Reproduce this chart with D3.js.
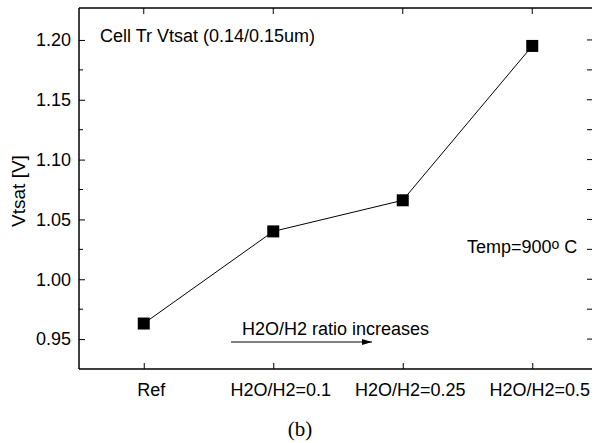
<!DOCTYPE html>
<html>
<head>
<meta charset="utf-8">
<script src="https://cdn.jsdelivr.net/npm/d3@7"></script>
<style>
  body { margin: 0; background: #fff; }
  text { font-family: "Liberation Sans", Arial, sans-serif; fill: #000; }
</style>
</head>
<body>
<div id="chart"></div>
<script>
// data
const categories = ["Ref", "H2O/H2=0.1", "H2O/H2=0.25", "H2O/H2=0.5"];
const vtsat = [0.963, 1.040, 1.066, 1.195];
const yTicks = [0.95, 1.00, 1.05, 1.10, 1.15, 1.20];
const yMinorTicks = [0.975, 1.025, 1.075, 1.125, 1.175];

const W = 595, H = 443;
const margin = {top: 8, right: 3, bottom: 74, left: 79};
const width = W - margin.left - margin.right;
const height = H - margin.top - margin.bottom;
const fs = 18;

const svg = d3.select("#chart").append("svg")
    .attr("width", W)
    .attr("height", H);

const g = svg.append("g")
    .attr("transform", `translate(${margin.left},${margin.top})`);

// scales
const x = d3.scalePoint()
    .domain(categories)
    .range([0, width + 5])
    .padding(0.5);

const y = d3.scaleLinear()
    .domain([0.925, 1.2267])
    .range([height, 0]);

// frame lines
g.append("line").attr("x1", 0).attr("x2", width).attr("y1", 0).attr("y2", 0)
    .attr("stroke", "#000").attr("stroke-width", 1.5);
g.append("line").attr("x1", 0).attr("x2", width).attr("y1", height).attr("y2", height)
    .attr("stroke", "#000").attr("stroke-width", 1.5);
g.append("line").attr("x1", 0).attr("x2", 0).attr("y1", 0).attr("y2", height)
    .attr("stroke", "#000").attr("stroke-width", 1.5);

// left axis
const yAxis = g.append("g")
    .call(d3.axisLeft(y).tickValues(yTicks).tickFormat(d3.format(".2f")).tickSize(-6).tickPadding(8));
yAxis.select(".domain").remove();
yAxis.selectAll("text").attr("font-size", fs).attr("font-family", "Liberation Sans, Arial, sans-serif");

g.append("g").selectAll("line")
    .data(yMinorTicks)
    .enter().append("line")
    .attr("x1", 0).attr("x2", 4)
    .attr("y1", d => y(d)).attr("y2", d => y(d))
    .attr("stroke", "#000");

// right side ticks (no border line)
g.append("g").selectAll("line")
    .data(yTicks.concat(yMinorTicks))
    .enter().append("line")
    .attr("x1", width - 5).attr("x2", width)
    .attr("y1", d => y(d)).attr("y2", d => y(d))
    .attr("stroke", "#000");

// bottom axis
const xAxis = g.append("g")
    .attr("transform", `translate(0,${height})`)
    .call(d3.axisBottom(x).tickSize(-6).tickPadding(14));
xAxis.select(".domain").remove();
xAxis.selectAll("text")
    .attr("font-size", fs)
    .attr("dx", 7)
    .attr("font-family", "Liberation Sans, Arial, sans-serif");

// top ticks
g.append("g").selectAll("line")
    .data(categories)
    .enter().append("line")
    .attr("x1", d => x(d)).attr("x2", d => x(d))
    .attr("y1", 0).attr("y2", 6)
    .attr("stroke", "#000");

// y label
svg.append("text")
    .attr("transform", "translate(25,191) rotate(-90)")
    .attr("text-anchor", "middle")
    .attr("font-size", 19)
    .text("Vtsat [V]");

// line + markers
const line = d3.line()
    .x((d, i) => x(categories[i]))
    .y(d => y(d));

g.append("path")
    .datum(vtsat)
    .attr("d", line)
    .attr("fill", "none")
    .attr("stroke", "#000")
    .attr("stroke-width", 1);

const s = 12;
g.selectAll("rect.pt")
    .data(vtsat)
    .enter().append("rect")
    .attr("class", "pt")
    .attr("x", (d, i) => x(categories[i]) - s / 2)
    .attr("y", d => y(d) - s / 2)
    .attr("width", s)
    .attr("height", s)
    .attr("fill", "#000");

// annotations
svg.append("text")
    .attr("x", 100).attr("y", 42)
    .attr("font-size", fs)
    .text("Cell Tr Vtsat (0.14/0.15um)");

const temp = svg.append("text")
    .attr("x", 467).attr("y", 253)
    .attr("font-size", fs);
temp.append("tspan").text("Temp=900");
temp.append("tspan").attr("dy", -4).attr("font-size", 14).text("o");
temp.append("tspan").attr("dy", 4).text(" C");

svg.append("text")
    .attr("x", 242).attr("y", 335)
    .attr("font-size", fs)
    .text("H2O/H2 ratio increases");

svg.append("defs").append("marker")
    .attr("id", "arr")
    .attr("viewBox", "0 0 10 6")
    .attr("refX", 10).attr("refY", 3)
    .attr("markerWidth", 10).attr("markerHeight", 6)
    .attr("markerUnits", "userSpaceOnUse")
    .attr("orient", "auto")
    .append("path").attr("d", "M0,0L10,3L0,6Z").attr("fill", "#000");

svg.append("line")
    .attr("x1", 231).attr("x2", 372)
    .attr("y1", 342).attr("y2", 342)
    .attr("stroke", "#000").attr("stroke-width", 1)
    .attr("marker-end", "url(#arr)");

svg.append("text")
    .attr("x", 300).attr("y", 436)
    .attr("text-anchor", "middle")
    .attr("font-size", 21)
    .style("font-family", "Liberation Serif, Times New Roman, serif")
    .text("(b)");
</script>
</body>
</html>
